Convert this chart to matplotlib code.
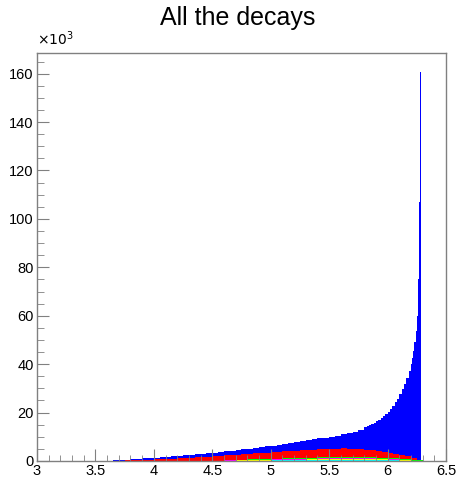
import matplotlib
matplotlib.use("Agg")
import matplotlib.pyplot as plt
from matplotlib.ticker import MultipleLocator
import numpy as np

plt.rcParams['font.family'] = ['Liberation Sans', 'DejaVu Sans']

# counts are in units of 1e3
# total spectrum: coarse bins at low energy, finer bins towards the endpoint
blue_edges = np.concatenate([np.linspace(3.55, 5.75, 45),
                             np.linspace(5.80, 6.18, 20),
                             np.linspace(6.20, 6.29, 10)])
blue_vals = [0.05, 0.15, 0.3, 0.45, 0.6, 0.75, 0.9, 1.05, 1.2, 1.35,
             1.5, 1.7, 1.9, 2.1, 2.3, 2.55, 2.8, 3.0, 3.25, 3.5,
             3.75, 4.0, 4.3, 4.55, 4.85, 5.1, 5.4, 5.7, 6.0, 6.3,
             6.6, 7.0, 7.3, 7.7, 8.1, 8.5, 8.9, 9.3, 9.7, 10.1,
             10.5, 11.0, 11.5, 12.1, 12.8,
             13.9, 14.3, 14.8, 15.3, 15.8, 16.4, 17.0, 17.7, 18.5, 19.4,
             20.4, 21.5, 22.8, 24.2, 25.8, 27.6, 29.6, 31.8, 34.3, 37.2,
             40.0, 42.5, 45.5, 49.0, 53.5, 60.0, 75.0, 107.0, 160.5]

red_edges = np.linspace(3.55, 6.30, 56)
red_vals = [0.02, 0.06, 0.12, 0.18, 0.25, 0.32, 0.4, 0.48, 0.56, 0.64,
            0.72, 0.82, 0.95, 1.1, 1.25, 1.4, 1.55, 1.7, 1.85, 2.0,
            2.15, 2.3, 2.45, 2.6, 2.75, 2.9, 3.1, 3.3, 3.5, 3.7,
            3.85, 4.0, 4.15, 4.3, 4.45, 4.6, 4.75, 4.9, 5.0, 5.1,
            5.15, 5.2, 5.15, 5.05, 4.9, 4.7, 4.45, 4.15, 3.8, 3.4,
            3.0, 2.5, 1.9, 1.2, 0.5]

small_edges = np.linspace(4.4, 6.3, 20)
green_vals = [0.1, 0.2, 0.35, 0.5, 0.65, 0.8, 0.95, 1.1, 1.25, 1.4,
              1.55, 1.65, 1.7, 1.65, 1.55, 1.35, 1.1, 0.75, 0.35]
magenta_vals = [0.05, 0.15, 0.25, 0.35, 0.45, 0.55, 0.65, 0.75, 0.85, 0.95,
                1.05, 1.15, 1.2, 1.15, 1.05, 0.9, 0.75, 0.5, 0.2]
yellow_vals = [0.03, 0.08, 0.15, 0.22, 0.3, 0.38, 0.45, 0.52, 0.6, 0.66,
               0.72, 0.78, 0.8, 0.78, 0.72, 0.62, 0.5, 0.32, 0.12]
cyan_vals = [0.01, 0.04, 0.08, 0.12, 0.16, 0.2, 0.24, 0.28, 0.32, 0.36,
             0.4, 0.43, 0.45, 0.44, 0.4, 0.34, 0.27, 0.17, 0.06]

fig = plt.figure(figsize=(4.61, 4.80), dpi=100)
ax = fig.add_axes([37/461, 1 - 461/480, (446 - 37)/461, (461 - 53)/480])

layers = [(blue_vals, blue_edges, '#0000ff'),
          (red_vals, red_edges, '#ff0000'),
          (green_vals, small_edges, '#00ff00'),
          (magenta_vals, small_edges, '#ff00ff'),
          (yellow_vals, small_edges, '#ffff00'),
          (cyan_vals, small_edges, '#00ffff')]
for vals, edges, col in layers:
    ax.stairs(vals, edges, fill=True, color=col, lw=0, antialiased=False)

ax.set_xlim(3, 6.5)
ax.set_ylim(0, max(blue_vals) * 1.05)

ax.xaxis.set_minor_locator(MultipleLocator(0.1))
ax.yaxis.set_major_locator(MultipleLocator(20))
ax.yaxis.set_minor_locator(MultipleLocator(5))
ax.set_xticks(np.arange(3, 6.51, 0.5))
ax.set_xticklabels(['3', '3.5', '4', '4.5', '5', '5.5', '6', '6.5'])

frame = '#808080'
for s in ax.spines.values():
    s.set_color(frame)
    s.set_linewidth(1)
ax.tick_params(which='both', direction='in', colors=frame, labelcolor='black',
               labelsize=10.5, top=False, right=False)
ax.tick_params(axis='x', which='major', length=8.4, pad=2)
ax.tick_params(axis='x', which='minor', length=4.3)
ax.tick_params(axis='y', which='major', length=8.6, pad=2.5)
ax.tick_params(axis='y', which='minor', length=5)

fig.text(37/461, 1 - 45/480, r'$\times10^{3}$', fontsize=10, ha='left', va='baseline')
fig.text(238/461, 1 - 18/480, 'All the decays', fontsize=18, ha='center', va='center')

fig.savefig('out.png', dpi=100)
